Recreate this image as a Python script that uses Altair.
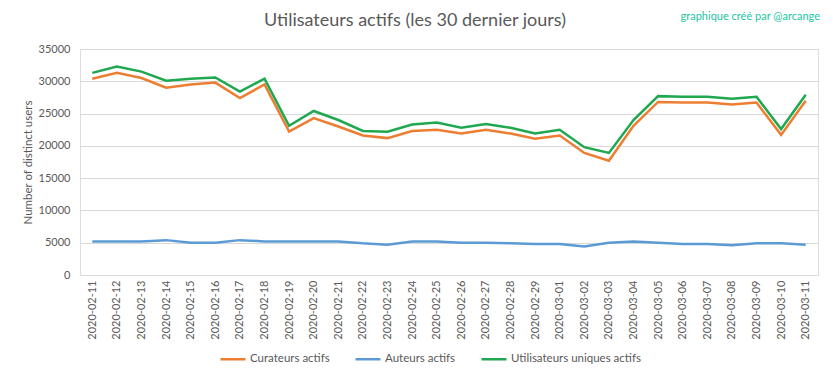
import altair as alt
import pandas as pd

dates = ["2020-02-11","2020-02-12","2020-02-13","2020-02-14","2020-02-15","2020-02-16","2020-02-17",
         "2020-02-18","2020-02-19","2020-02-20","2020-02-21","2020-02-22","2020-02-23","2020-02-24",
         "2020-02-25","2020-02-26","2020-02-27","2020-02-28","2020-02-29","2020-03-01","2020-03-02",
         "2020-03-03","2020-03-04","2020-03-05","2020-03-06","2020-03-07","2020-03-08","2020-03-09",
         "2020-03-10","2020-03-11"]

curateurs = [30400,31300,30500,29000,29500,29800,27400,29500,22200,24300,23000,21600,21200,22300,
             22500,21900,22500,21900,21100,21600,18900,17700,23100,26800,26700,26700,26400,26700,
             21700,27000]
auteurs = [5200,5200,5200,5400,5000,5000,5400,5200,5200,5200,5200,4900,4700,5200,5200,5000,5000,
           4900,4800,4800,4400,5000,5200,5000,4800,4800,4600,4900,4900,4700]
uniques = [31300,32300,31500,30100,30400,30600,28400,30400,23100,25400,24000,22300,22200,23300,
           23600,22800,23400,22800,21900,22500,19800,18900,24000,27700,27600,27600,27300,27600,
           22600,27900]

series_names = ["Curateurs actifs", "Auteurs actifs", "Utilisateurs uniques actifs"]
series_colors = ["#ED7D31", "#5B9BD5", "#1FA84F"]
y_ticks = [0, 5000, 10000, 15000, 20000, 25000, 30000, 35000]

title_text = "Utilisateurs actifs (les 30 dernier jours)"
credit_text = "graphique créé par @arcange"

rows = []
for name, vals in zip(series_names, [curateurs, auteurs, uniques]):
    for d, v in zip(dates, vals):
        rows.append({"date": d, "value": v, "serie": name})
df = pd.DataFrame(rows)

FONT = "Lato"
GREY = "#595959"

lines = alt.Chart(df).mark_line(strokeWidth=2.5).encode(
    x=alt.X("date:N", sort=dates, title=None,
            scale=alt.Scale(type="point", padding=0.5),
            axis=alt.Axis(labelAngle=-90, ticks=False, labelPadding=5, labelFontSize=11,
                          labelColor=GREY, labelFont=FONT, domainColor="#d9d9d9", grid=False)),
    y=alt.Y("value:Q", title="Number of distinct users",
            scale=alt.Scale(domain=[0, 35000], nice=False),
            axis=alt.Axis(values=y_ticks, format="d", ticks=False, domain=False, labelPadding=10,
                          labelFontSize=11, labelColor=GREY, labelFont=FONT,
                          titleFont=FONT, titleFontSize=11.5, titleColor=GREY, titleFontWeight="normal",
                          titlePadding=5, gridColor="#d9d9d9")),
    color=alt.Color("serie:N", sort=series_names,
                    scale=alt.Scale(domain=series_names, range=series_colors),
                    legend=alt.Legend(title=None, orient="none", legendX=139, legendY=296,
                                      direction="horizontal", columns=3, symbolType="stroke",
                                      symbolSize=625, symbolStrokeWidth=2.5, columnPadding=20,
                                      labelOffset=3, labelFontSize=11.5, labelColor=GREY,
                                      labelFont=FONT)),
    order=alt.Order("serie:N"),
)

title_layer = alt.Chart(pd.DataFrame({"t": [title_text]})).mark_text(
    font=FONT, fontSize=18, color=GREY, align="center", baseline="middle"
).encode(text="t:N", x=alt.value(335), y=alt.value(-28))

credit_layer = alt.Chart(pd.DataFrame({"t": [credit_text]})).mark_text(
    font=FONT, fontSize=11, color="#22C4A4", align="right", baseline="middle"
).encode(text="t:N", x=alt.value(740), y=alt.value(-32))

chart = alt.layer(lines, title_layer, credit_layer).properties(
    width=738, height=226,
    autosize=alt.AutoSizeParams(type="none"),
    padding={"left": 72, "top": 41, "right": 7, "bottom": 96},
).configure_view(stroke=None).configure(background="white")

chart.save("out.html", embed_options={"renderer": "svg", "actions": False})
